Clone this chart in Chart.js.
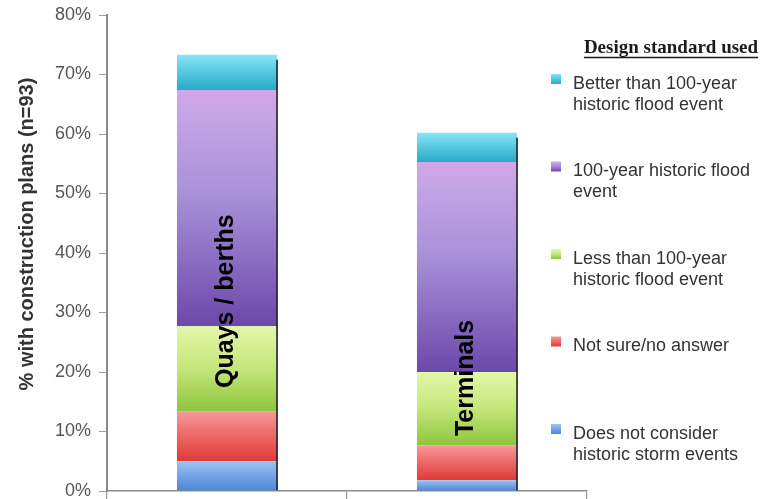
<!DOCTYPE html>
<html>
<head>
<meta charset="utf-8">
<script src="https://cdn.jsdelivr.net/npm/chart.js@4.4.1/dist/chart.umd.min.js"></script>
<style>
  html, body { margin: 0; padding: 0; background: #ffffff; }
  #wrap { width: 780px; height: 499px; position: relative; }
  canvas { display: block; }
</style>
</head>
<body>
<div id="wrap"><canvas id="chart" width="780" height="499"></canvas></div>
<script>
// Share of construction plans by design standard, stacked per facility type
const categories = ['Quays / berths', 'Terminals'];

const seriesNames = [
  'Does not consider historic storm events',
  'Not sure/no answer',
  'Less than 100-year historic flood event',
  '100-year historic flood event',
  'Better than 100-year historic flood event'
];

// Legend text, wrapped the way it is printed (top entry first)
const legendTitle = 'Design standard used';
const legendLines = [
  ['Better than 100-year', 'historic flood event'],
  ['100-year historic flood', 'event'],
  ['Less than 100-year', 'historic flood event'],
  ['Not sure/no answer'],
  ['Does not consider', 'historic storm events']
];

// Values in percent, one entry per category
const doesNotConsider = [5.0, 1.8];
const notSure         = [8.4, 5.9];
const lessThan100     = [14.3, 12.3];
const equal100        = [39.7, 35.3];
const betterThan100   = [5.9, 4.9];

const yTicks = [0, 10, 20, 30, 40, 50, 60, 70, 80];
const yTitle = '% with construction plans (n=93)';

// Vertical shading for each series: light at the top of a segment, deeper at the base
const shades = [
  [[0, '#9cc2f4'], [1, '#4a86d6']],
  [[0, '#f79a9a'], [0.45, '#ef6b6b'], [1, '#dc3a3a']],
  [[0, '#e4f7a8'], [0.5, '#c4e67a'], [1, '#8ec43e']],
  [[0, '#d4a6e6'], [0.12, '#c3a4e6'], [0.45, '#a890d8'], [1, '#6c48aa']],
  [[0, '#86e6f6'], [1, '#27a9ca']]
];
const solid = ['#5a92dc', '#e45252', '#a6d45a', '#8e6cc6', '#42c4e0'];

function segmentFill(seriesIdx) {
  return function (ctx) {
    const chart = ctx.chart;
    const yScale = chart.scales && chart.scales.y;
    if (!yScale || ctx.type !== 'data') return solid[seriesIdx];
    let start = 0;
    for (let d = 0; d < ctx.datasetIndex; d++) {
      start += chart.data.datasets[d].data[ctx.dataIndex];
    }
    const top = yScale.getPixelForValue(start + ctx.raw);
    const base = yScale.getPixelForValue(start);
    if (!isFinite(top) || !isFinite(base) || top === base) return solid[seriesIdx];
    const g = chart.ctx.createLinearGradient(0, top, 0, base);
    shades[seriesIdx].forEach(([p, c]) => g.addColorStop(p, c));
    return g;
  };
}

const seriesValues = [doesNotConsider, notSure, lessThan100, equal100, betterThan100];

const datasets = seriesValues.map((vals, i) => ({
  label: seriesNames[i],
  data: vals,
  backgroundColor: segmentFill(i),
  borderWidth: 0,
  categoryPercentage: 1.0,
  barPercentage: 0.417
}));

const SANS = '"Liberation Sans", Arial, Helvetica, sans-serif';
const SERIF = '"Liberation Serif", "Times New Roman", serif';

// Dark edge on the right side of each stacked column, plus the category name written inside it
const columnDecor = {
  id: 'columnDecor',
  afterDatasetsDraw(chart, args, opts) {
    const ctx = chart.ctx;
    const yScale = chart.scales.y;
    const lastMeta = chart.getDatasetMeta(chart.data.datasets.length - 1);
    const firstMeta = chart.getDatasetMeta(0);
    categories.forEach((name, j) => {
      const topBar = lastMeta.data[j];
      const baseBar = firstMeta.data[j];
      const right = topBar.x + topBar.width / 2;
      ctx.save();
      ctx.strokeStyle = '#1d1d2a';
      ctx.lineWidth = 1.6;
      ctx.beginPath();
      ctx.moveTo(right, topBar.y + 5);
      ctx.lineTo(right, baseBar.base);
      ctx.stroke();

      // category label, rotated to read bottom-to-top
      const cy = yScale.getPixelForValue(opts.labelCenter[j]);
      ctx.translate(topBar.x - 1, cy);
      ctx.rotate(-Math.PI / 2);
      ctx.font = 'bold 25px ' + SANS;
      ctx.fillStyle = '#000000';
      ctx.textAlign = 'center';
      ctx.textBaseline = 'middle';
      ctx.fillText(name, 0, 0);
      ctx.restore();
    });
  }
};

// Side legend with its underlined serif heading, and the rotated value-axis title
const sideLegend = {
  id: 'sideLegend',
  afterDraw(chart) {
    const ctx = chart.ctx;
    ctx.save();

    // heading
    ctx.font = 'bold 19px ' + SERIF;
    ctx.fillStyle = '#1a1a1a';
    ctx.textAlign = 'center';
    ctx.textBaseline = 'alphabetic';
    const hx = 671, hy = 53;
    ctx.fillText(legendTitle, hx, hy);
    const hw = ctx.measureText(legendTitle).width;
    ctx.strokeStyle = '#1a1a1a';
    ctx.lineWidth = 1.5;
    ctx.beginPath();
    ctx.moveTo(hx - hw / 2, hy + 4.5);
    ctx.lineTo(hx + hw / 2, hy + 4.5);
    ctx.stroke();

    // entries, top entry is the last stacked series
    ctx.font = '18px ' + SANS;
    ctx.textAlign = 'left';
    ctx.textBaseline = 'middle';
    legendLines.forEach((lines, k) => {
      const s = seriesNames.length - 1 - k;
      const y0 = 84 + k * 87.5;
      const g = ctx.createLinearGradient(0, y0 - 10, 0, y0);
      shades[s].forEach(([p, c]) => g.addColorStop(p, c));
      ctx.fillStyle = g;
      ctx.fillRect(551, y0 - 10, 10, 10);
      ctx.fillStyle = '#333333';
      lines.forEach((t, li) => ctx.fillText(t, 573, y0 + li * 21));
    });

    // value-axis title
    ctx.translate(27, 234);
    ctx.rotate(-Math.PI / 2);
    ctx.font = 'bold 20px ' + SANS;
    ctx.fillStyle = '#333333';
    ctx.textAlign = 'center';
    ctx.textBaseline = 'middle';
    ctx.fillText(yTitle, 0, 0);
    ctx.restore();
  }
};

new Chart(document.getElementById('chart'), {
  type: 'bar',
  data: { labels: categories, datasets },
  plugins: [columnDecor, sideLegend],
  options: {
    responsive: false,
    animation: false,
    devicePixelRatio: 1,
    layout: { padding: { left: 13, top: 15, right: 193, bottom: 0 } },
    plugins: {
      legend: { display: false },
      tooltip: { enabled: false },
      columnDecor: { labelCenter: [31.9, 19.0] }
    },
    scales: {
      x: {
        stacked: true,
        offset: true,
        ticks: { display: false },
        grid: { drawOnChartArea: false, offset: true, tickLength: 8, color: '#9a9a9a', lineWidth: 1.2 },
        border: { color: '#8c8c8c', width: 1.5 },
        afterFit(scale) {
          scale.height = 8;
          scale.paddingLeft = 0;
          scale.paddingRight = 0;
        }
      },
      y: {
        stacked: true,
        min: 0,
        max: 80,
        afterBuildTicks(scale) { scale.ticks = yTicks.map(v => ({ value: v })); },
        ticks: {
          callback: v => v + '%',
          color: '#555555',
          font: { family: SANS, size: 18 },
          padding: 8
        },
        grid: { drawOnChartArea: false, tickLength: 8, color: '#a0a0a0', lineWidth: 1 },
        border: { color: '#8a8a8a', width: 2 },
        afterFit(scale) {
          scale.width = 94;
          scale.paddingTop = 0;
          scale.paddingBottom = 0;
        }
      }
    }
  }
});
</script>
</body>
</html>
